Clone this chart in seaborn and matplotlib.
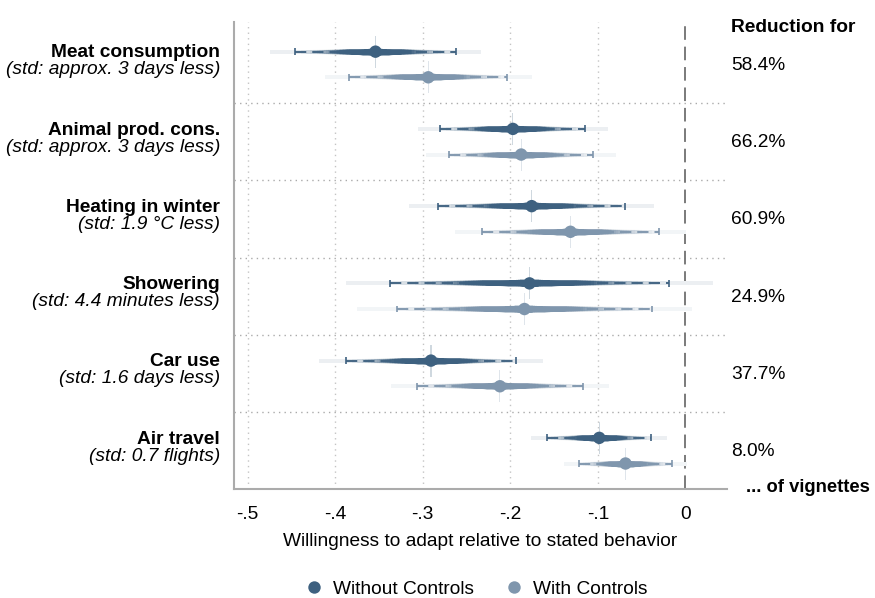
import numpy as np
import pandas as pd
import matplotlib
matplotlib.use("Agg")
import matplotlib.pyplot as plt
import matplotlib.colors as mcolors
import seaborn as sns
from statistics import NormalDist
from matplotlib.transforms import blended_transform_factory

# ---------------- data ----------------
behaviors = ["Meat consumption", "Animal prod. cons.", "Heating in winter",
             "Showering", "Car use", "Air travel"]
std_notes = ["(std: approx. 3 days less)", "(std: approx. 3 days less)",
             "(std: 1.9 °C less)", "(std: 4.4 minutes less)",
             "(std: 1.6 days less)", "(std: 0.7 flights)"]
reductions = ["58.4%", "66.2%", "60.9%", "24.9%", "37.7%", "8.0%"]
models = ["Without Controls", "With Controls"]
coef_without = [-0.354, -0.197, -0.1755, -0.178, -0.2906, -0.0983]
se_without = [0.0468, 0.0423, 0.0544, 0.0816, 0.0496, 0.0302]
coef_with = [-0.2937, -0.1875, -0.1312, -0.1838, -0.2118, -0.0683]
se_with = [0.0460, 0.0421, 0.0514, 0.0745, 0.0482, 0.0271]
xticks = [-0.5, -0.4, -0.3, -0.2, -0.1, 0.0]
xticklabels = ["-.5", "-.4", "-.3", "-.2", "-.1", "0"]
colors = {"Without Controls": "#3e6180", "With Controls": "#7f96ad"}

rows = []
for i, b in enumerate(behaviors):
    rows.append(dict(behavior=b, model=models[0], b=coef_without[i], se=se_without[i], pos=i - 0.166))
    rows.append(dict(behavior=b, model=models[1], b=coef_with[i], se=se_with[i], pos=i + 0.166))
df = pd.DataFrame(rows)

# ---------------- style ----------------
sns.set_theme(style="white")
plt.rcParams["font.family"] = ["Liberation Sans", "DejaVu Sans"]
plt.rcParams["text.color"] = "black"
plt.rcParams["axes.labelcolor"] = "black"
plt.rcParams["xtick.color"] = "black"
DPI = 100
PX = 72.0 / DPI  # points per pixel
FS = 13.8

fig = plt.figure(figsize=(8.75, 5.98), dpi=DPI)
ax = fig.add_axes([234 / 875, 1 - 489.3 / 598, (727 - 234) / 875, (489.3 - 22) / 598])

ax.set_xlim(-0.5157, 0.0477)
ax.set_ylim(5.50, -0.55)

# grid lines
for xv in xticks[:-1]:
    ax.axvline(xv, color="#c4c4c4", lw=1.0, ls=(0, (1, 3)), zorder=0)
ax.axvline(0, color="#7a7a7a", lw=1.4, ls=(0, (7, 3.5)), zorder=1)
for k in range(len(behaviors) - 1):
    ax.axhline(k + 0.5, color="#aaaaaa", lw=1.0, ls=(0, (1, 3)), zorder=0)

# smooth confidence intervals
nd = NormalDist()
levels = np.arange(0.99, 0.0, -0.02)
for _, r in df.iterrows():
    base = np.array(mcolors.to_rgb(colors[r.model]))
    for p in levels:
        z = nd.inv_cdf(0.5 + p / 2)
        t = float(np.clip(0.15 + 0.85 * (0.95 - p) / 0.33, 0.1, 1.0))
        w = 4 + 3.5 * (1 - p) ** 3
        if p < 0.02:
            w = 32
            t = 0.25
        c = 1 - t * (1 - base)
        ax.hlines(r.pos, r.b - z * r.se, r.b + z * r.se, colors=[c],
                  lw=w * PX, capstyle="butt", zorder=2)
    z95 = nd.inv_cdf(0.975)
    lo, hi = r.b - z95 * r.se, r.b + z95 * r.se
    ax.hlines(r.pos, lo, hi, colors=colors[r.model], lw=1.35,
              linestyles=[(0, (6, 3.2))], zorder=3)
    ax.vlines([lo, hi], r.pos - 0.045, r.pos + 0.045, colors=colors[r.model], lw=1.2, zorder=3)

sns.scatterplot(data=df, x="b", y="pos", hue="model", hue_order=models,
                palette=colors, s=80, linewidth=0, ax=ax, zorder=5, legend=True)

# axes styling
for s in ["top", "right"]:
    ax.spines[s].set_visible(False)
for s in ["left", "bottom"]:
    ax.spines[s].set_color("#ababab")
    ax.spines[s].set_linewidth(1.5)
ax.set_xticks(xticks)
ax.set_xticklabels(xticklabels, fontsize=FS)
ax.set_yticks(range(len(behaviors)))
ax.set_yticklabels([])
ax.tick_params(axis="both", which="both", length=5, width=1, color="#ababab", pad=7)
ax.set_xlabel("Willingness to adapt relative to stated behavior", fontsize=FS, labelpad=7)
ax.set_ylabel("")
ax.grid(False)

trans = blended_transform_factory(ax.transAxes, ax.transData)
for i, (b, n, red) in enumerate(zip(behaviors, std_notes, reductions)):
    ax.annotate(b, xy=(0, i), xycoords=trans, xytext=(-14, 7), textcoords="offset pixels",
                ha="right", va="baseline", fontsize=FS, fontweight="bold")
    ax.annotate(n, xy=(0, i), xycoords=trans, xytext=(-14, -10), textcoords="offset pixels",
                ha="right", va="baseline", fontsize=FS, fontstyle="italic")
    ax.annotate(red, xy=(1, i), xycoords=trans, xytext=(4, -1), textcoords="offset pixels",
                ha="left", va="center", fontsize=FS)

fig.text(731 / 875, 1 - 27 / 598, "Reduction for", ha="left", va="center",
         fontsize=FS, fontweight="bold")
fig.text(746 / 875, 1 - 488 / 598, "... of vignettes", ha="left", va="center",
         fontsize=13.2, fontweight="bold")

sns.move_legend(ax, "center", bbox_to_anchor=(0.544, 1 - 589 / 598), bbox_transform=fig.transFigure,
                ncol=2, frameon=False, title=None, fontsize=FS, columnspacing=1.6,
                handlelength=1.0, handletextpad=0.5, markerscale=1.0)

fig.savefig("out.png", dpi=DPI)
